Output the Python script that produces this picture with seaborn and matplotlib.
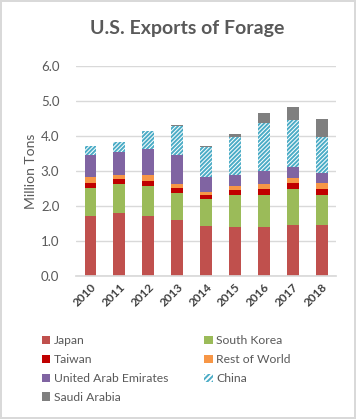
import numpy as np
import pandas as pd
import matplotlib
matplotlib.use("Agg")
import matplotlib.pyplot as plt
from matplotlib.patches import Patch
import seaborn as sns

years = ["2010", "2011", "2012", "2013", "2014", "2015", "2016", "2017", "2018"]
japan = [1.71, 1.81, 1.72, 1.59, 1.42, 1.39, 1.40, 1.47, 1.47]
south_korea = [0.82, 0.82, 0.84, 0.78, 0.77, 0.92, 0.92, 1.02, 0.85]
taiwan = [0.14, 0.14, 0.15, 0.14, 0.13, 0.14, 0.16, 0.16, 0.17]
rest_of_world = [0.15, 0.12, 0.17, 0.11, 0.09, 0.11, 0.14, 0.15, 0.17]
uae = [0.65, 0.65, 0.74, 0.84, 0.42, 0.33, 0.39, 0.31, 0.28]
china = [0.24, 0.30, 0.52, 0.83, 0.86, 1.07, 1.36, 1.35, 1.04]
saudi = [0.00, 0.00, 0.00, 0.03, 0.02, 0.10, 0.28, 0.37, 0.50]

series = [
    ("Japan", japan, "#C0504D"),
    ("South Korea", south_korea, "#9BBB59"),
    ("Taiwan", taiwan, "#C00000"),
    ("Rest of World", rest_of_world, "#F79646"),
    ("United Arab Emirates", uae, "#8064A2"),
    ("China", china, "#4BACC6"),
    ("Saudi Arabia", saudi, "#7F7F7F"),
]

sns.set_theme(style="white")
plt.rcParams["font.family"] = ["Lato", "DejaVu Sans"]
plt.rcParams["hatch.linewidth"] = 1.4

fig = plt.figure(figsize=(3.56, 4.19), dpi=100, edgecolor="#D9D9D9", linewidth=1.5)
ax = fig.add_axes([0.2135, 0.341, 0.7305, 0.5015])

# stacked bars by overdrawing cumulative totals, tallest first
df = pd.DataFrame({name: vals for name, vals, _ in series}, index=years)
cum = df.cumsum(axis=1)
for name, _, color in reversed(series):
    data = pd.DataFrame({"year": years, "value": cum[name].values})
    if name == "China":
        sns.barplot(data=data, x="year", y="value", ax=ax, width=0.41,
                    facecolor="white", edgecolor=color, hatch="////////",
                    linewidth=0, errorbar=None)
    else:
        sns.barplot(data=data, x="year", y="value", ax=ax, width=0.41,
                    color=color, saturation=1, linewidth=0, errorbar=None)

ax.set_ylim(0, 6)
ax.set_xlim(-0.5, 8.5)
ax.set_yticks(np.arange(0, 6.1, 1.0))
ax.set_yticklabels([f"{v:.1f}" for v in np.arange(0, 6.1, 1.0)],
                   fontsize=9.5, color="#595959")
ax.yaxis.grid(True, color="#D9D9D9", linewidth=1)
ax.set_axisbelow(True)
for s in ["top", "right", "left"]:
    ax.spines[s].set_visible(False)
ax.spines["bottom"].set_color("#D9D9D9")
ax.tick_params(axis="y", length=0, pad=12)
ax.tick_params(axis="x", length=0, pad=4)
plt.setp(ax.get_xticklabels(), rotation=45, ha="right", rotation_mode="anchor",
         fontsize=8.5, fontweight="bold", color="#404040")
ax.set_xlabel("")
ax.set_ylabel("Million Tons", fontsize=10, color="#595959", labelpad=3)

fig.suptitle("U.S. Exports of Forage", fontsize=14, fontweight="bold",
             color="#595959", x=0.525, y=0.952)

handles = {}
for name, _, color in series:
    if name == "China":
        handles[name] = Patch(facecolor="white", edgecolor=color, hatch="//////",
                              linewidth=0, label=name)
    else:
        handles[name] = Patch(facecolor=color, edgecolor="none", label=name)
order = ["Japan", "Taiwan", "United Arab Emirates", "Saudi Arabia",
         "South Korea", "Rest of World", "China"]
fig.legend(handles=[handles[n] for n in order], labels=order, ncol=2,
           loc="upper left", bbox_to_anchor=(0.1, 0.214), frameon=False,
           fontsize=8.7, labelcolor="#595959", handlelength=0.7,
           handleheight=0.7, handletextpad=0.3, columnspacing=3.0,
           labelspacing=0.65, borderpad=0)

fig.savefig("out.png", dpi=100)
